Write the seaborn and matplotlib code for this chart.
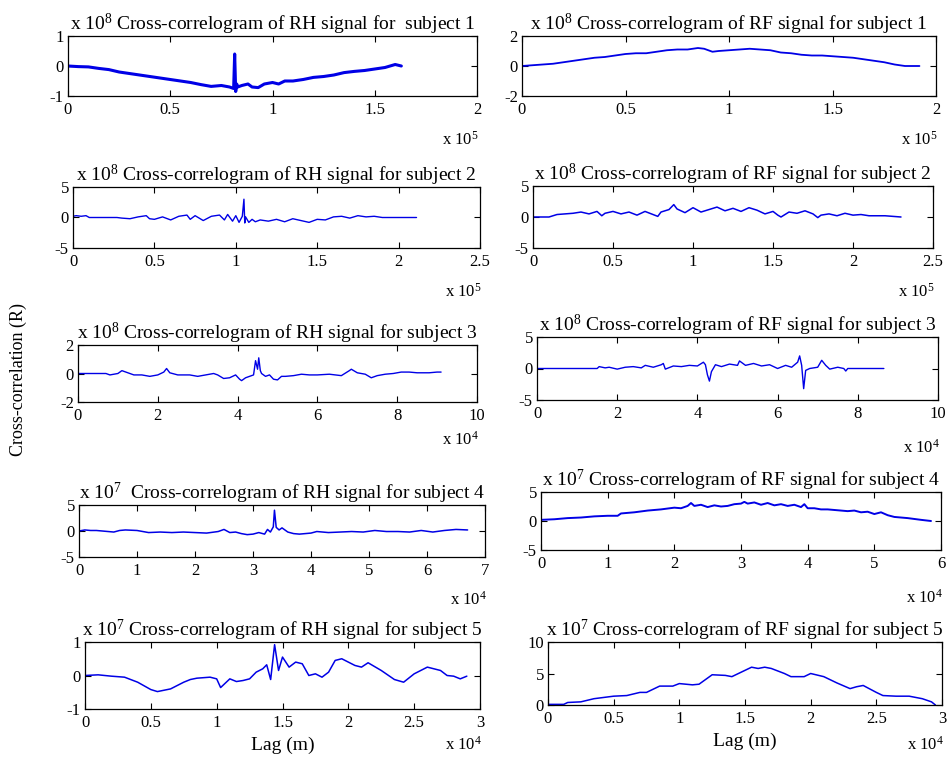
import numpy as np
import pandas as pd
import matplotlib
matplotlib.use('Agg')
import matplotlib.pyplot as plt
import seaborn as sns

sns.set_theme(style='ticks')
plt.rcParams['font.family'] = ['Liberation Serif', 'DejaVu Serif']
plt.rcParams['mathtext.fontset'] = 'custom'
plt.rcParams['mathtext.rm'] = 'Liberation Serif'
plt.rcParams['mathtext.default'] = 'regular'

# ---------------- data (lag, cross-correlation) ----------------
# RH subject 1 : lag x1e5, R x1e8
rh1_lag = [0, 0.05, 0.1, 0.15, 0.2, 0.25, 0.3, 0.35, 0.4, 0.45, 0.5, 0.55, 0.6, 0.65, 0.7,
           0.75, 0.79, 0.81, 0.815, 0.82, 0.825, 0.83, 0.85, 0.88, 0.9, 0.93, 0.96, 1.0, 1.03,
           1.06, 1.1, 1.15, 1.2, 1.25, 1.3, 1.35, 1.4, 1.45, 1.5, 1.55, 1.6, 1.63]
rh1_r = [0, -0.02, -0.03, -0.08, -0.12, -0.2, -0.25, -0.3, -0.35, -0.4, -0.45, -0.5, -0.55,
         -0.62, -0.68, -0.65, -0.7, -0.75, 0.4, -0.85, -0.6, -0.7, -0.65, -0.6, -0.7, -0.72,
         -0.6, -0.55, -0.6, -0.5, -0.5, -0.45, -0.38, -0.35, -0.3, -0.22, -0.18, -0.15, -0.1,
         -0.05, 0.05, 0]

# RF subject 1 : lag x1e5, R x1e8
rf1_lag = [0, 0.05, 0.1, 0.15, 0.2, 0.25, 0.3, 0.35, 0.4, 0.45, 0.5, 0.55, 0.6, 0.65, 0.7, 0.75,
           0.8, 0.85, 0.88, 0.92, 0.95, 1.0, 1.05, 1.1, 1.15, 1.2, 1.25, 1.3, 1.35, 1.4, 1.45,
           1.5, 1.55, 1.6, 1.65, 1.7, 1.75, 1.8, 1.85, 1.9, 1.92]
rf1_r = [0, 0.05, 0.1, 0.15, 0.25, 0.35, 0.45, 0.55, 0.6, 0.7, 0.8, 0.85, 0.85, 0.95, 1.05, 1.1,
         1.1, 1.2, 1.15, 0.95, 1.0, 1.05, 1.1, 1.15, 1.1, 1.05, 0.9, 0.85, 0.75, 0.7, 0.7,
         0.65, 0.6, 0.55, 0.45, 0.35, 0.25, 0.1, 0.0, 0.0, 0.0]

# RH subject 2 : lag x1e5, R x1e8
rh2_lag = [0, 0.02, 0.05, 0.08, 0.1, 0.2, 0.27, 0.3, 0.35, 0.4, 0.45, 0.47, 0.5, 0.55, 0.6,
           0.65, 0.7, 0.72, 0.75, 0.8, 0.85, 0.9, 0.93, 0.95, 0.98, 1.0, 1.02, 1.04, 1.05,
           1.055, 1.06, 1.08, 1.1, 1.12, 1.15, 1.2, 1.25, 1.3, 1.35, 1.4, 1.45, 1.5, 1.55,
           1.6, 1.65, 1.7, 1.75, 1.8, 1.85, 1.9, 2.0, 2.11]
rh2_r = [0.2, 0.3, 0.2, 0.3, 0, 0, 0, -0.1, -0.2, 0.1, 0.3, -0.2, -0.3, 0.1, -0.4, 0.2, 0.4,
         -0.3, 0.3, -0.5, 0.2, 0.4, -0.4, 0.5, -0.6, 0.3, -0.8, 0.2, 3.0, -0.9, 0.1, -0.8,
         -0.3, -0.7, -0.4, -0.6, -0.3, -0.7, -0.2, -0.5, -0.8, -0.3, -0.4, 0.1, 0.2, -0.1,
         0.3, 0.1, 0.2, 0, 0, 0]

# RF subject 2 : lag x1e5, R x1e8
rf2_lag = [0, 0.1, 0.15, 0.2, 0.25, 0.3, 0.35, 0.4, 0.43, 0.45, 0.5, 0.55, 0.6, 0.65, 0.7,
           0.75, 0.78, 0.8, 0.85, 0.88, 0.9, 0.95, 1.0, 1.05, 1.1, 1.15, 1.2, 1.25, 1.3, 1.35,
           1.4, 1.45, 1.5, 1.53, 1.55, 1.6, 1.65, 1.7, 1.75, 1.78, 1.8, 1.85, 1.9, 1.95, 2.0,
           2.05, 2.1, 2.2, 2.3]
rf2_r = [0, 0, 0.4, 0.5, 0.6, 0.8, 0.5, 0.9, 0.2, 0.6, 0.9, 0.5, 0.8, 0.3, 0.9, 0.4, 0.1,
         0.8, 1.2, 2.0, 1.3, 0.7, 1.5, 0.8, 1.2, 1.6, 1.0, 1.4, 0.9, 1.5, 1.1, 0.5, 0.9, 0.3,
         0.0, 0.8, 0.6, 1.0, 0.5, -0.1, 0.3, 0.5, 0.2, 0.6, 0.3, 0.4, 0.2, 0.2, 0.0]

# RH subject 3 : lag x1e4, R x1e8
rh3_lag = [0, 0.7, 0.8, 1.0, 1.1, 1.2, 1.4, 1.6, 1.8, 2.0, 2.15, 2.22, 2.3, 2.5, 2.8, 3.0,
           3.2, 3.4, 3.5, 3.65, 3.8, 3.95, 4.05, 4.1, 4.2, 4.3, 4.4, 4.45, 4.5, 4.53, 4.57,
           4.6, 4.7, 4.8, 4.9, 5.0, 5.1, 5.2, 5.4, 5.6, 5.8, 6.0, 6.3, 6.6, 6.8, 6.85, 7.0,
           7.2, 7.35, 7.5, 7.7, 7.9, 8.1, 8.3, 8.5, 8.8, 9.0, 9.1]
rh3_r = [0, 0, -0.1, 0, 0.2, 0.1, -0.1, -0.1, -0.2, -0.1, 0.1, 0.35, 0.05, -0.1, -0.1, -0.2,
         -0.1, 0, -0.1, -0.35, -0.3, -0.1, -0.4, -0.5, -0.3, -0.2, -0.1, 0.9, 0.3, 1.1, 0.2,
         0.0, -0.2, -0.1, -0.4, -0.45, -0.2, -0.2, -0.15, -0.05, -0.1, -0.1, -0.05, -0.15,
         0.2, 0.3, 0.05, -0.05, -0.3, -0.15, -0.05, 0, 0.1, 0.1, 0.05, 0.05, 0.1, 0.1]

# RF subject 3 : lag x1e4, R x1e8
rf3_lag = [0, 1.5, 1.55, 1.7, 1.8, 2.0, 2.2, 2.4, 2.6, 2.7, 2.9, 3.1, 3.15, 3.2, 3.4, 3.6,
           3.8, 4.0, 4.15, 4.2, 4.25, 4.3, 4.35, 4.45, 4.6, 4.8, 5.0, 5.05, 5.2, 5.4, 5.6,
           5.8, 6.0, 6.2, 6.35, 6.5, 6.55, 6.6, 6.65, 6.7, 6.8, 7.0, 7.1, 7.2, 7.3, 7.5,
           7.65, 7.7, 7.75, 8.0, 8.65]
rf3_r = [0, 0, 0.3, 0.1, 0.2, -0.1, 0.2, 0.3, 0.1, 0.5, 0.2, 0.6, 0.8, -0.1, 0.4, 0.3, 0.5,
         0.4, 1.0, 0.6, -1.0, -2.0, -0.5, 0.6, 0.3, 0.7, 0.5, 1.2, 0.5, 0.8, 0.4, 0.6, 0.0,
         0.5, 0.2, 1.0, 2.0, 0.5, -3.2, -0.3, 0.0, 0.2, 1.3, 0.5, -0.1, 0.2, 0.0, -0.4, 0.0,
         0.0, 0.0]

# RH subject 4 : lag x1e4, R x1e7
rh4_lag = [0, 0.1, 0.2, 0.3, 0.6, 0.7, 0.8, 1.0, 1.2, 1.4, 1.6, 1.8, 2.0, 2.2, 2.4, 2.5, 2.6,
           2.7, 2.8, 2.9, 3.0, 3.1, 3.2, 3.25, 3.3, 3.35, 3.37, 3.4, 3.45, 3.5, 3.6, 3.7, 3.8,
           4.0, 4.1, 4.3, 4.5, 4.7, 4.9, 5.1, 5.3, 5.5, 5.7, 5.9, 6.1, 6.3, 6.5, 6.7]
rh4_r = [0, 0.2, 0.1, 0.1, -0.2, 0.1, 0.2, 0.1, -0.3, -0.2, -0.3, -0.2, -0.3, -0.4, -0.1,
         0.3, -0.3, -0.2, -0.5, -0.7, -0.6, -0.3, -0.6, 0.3, -0.2, 0.8, 4.0, 0.7, 0.2, 0.6,
         -0.2, -0.5, -0.6, -0.4, -0.1, -0.3, -0.2, -0.1, -0.2, 0.1, -0.1, -0.1, -0.2, 0.1,
         -0.2, 0.1, 0.3, 0.2]

# RF subject 4 : lag x1e4, R x1e7
rf4_lag = [0, 0.2, 0.4, 0.6, 0.8, 1.0, 1.15, 1.2, 1.4, 1.6, 1.8, 2.0, 2.1, 2.2, 2.25, 2.3,
           2.4, 2.5, 2.6, 2.7, 2.8, 2.9, 3.0, 3.05, 3.1, 3.2, 3.3, 3.4, 3.5, 3.6, 3.7, 3.8,
           3.9, 3.95, 4.0, 4.1, 4.2, 4.3, 4.4, 4.5, 4.6, 4.7, 4.8, 4.9, 5.0, 5.1, 5.2, 5.3,
           5.5, 5.7, 5.85]
rf4_r = [0.2, 0.3, 0.5, 0.6, 0.8, 0.9, 0.9, 1.3, 1.5, 1.8, 2.0, 2.3, 2.2, 2.6, 3.1, 2.6,
         2.8, 2.4, 2.7, 2.5, 2.6, 2.9, 3.0, 3.3, 3.0, 3.2, 2.8, 3.1, 2.7, 2.9, 2.6, 2.8,
         2.4, 2.9, 2.2, 2.2, 2.0, 2.0, 1.9, 1.8, 1.7, 1.8, 1.5, 1.6, 1.2, 1.5, 1.0, 0.7,
         0.5, 0.2, 0.0]

# RH subject 5 : lag x1e4, R x1e7
rh5_lag = [0, 0.1, 0.2, 0.3, 0.4, 0.5, 0.55, 0.65, 0.75, 0.8, 0.85, 0.95, 1.0, 1.03, 1.1,
           1.15, 1.2, 1.25, 1.3, 1.35, 1.38, 1.41, 1.44, 1.47, 1.5, 1.55, 1.6, 1.65, 1.7,
           1.75, 1.8, 1.85, 1.9, 1.95, 2.0, 2.05, 2.1, 2.15, 2.25, 2.35, 2.42, 2.5, 2.6,
           2.7, 2.75, 2.8, 2.85, 2.9]
rh5_r = [0, 0.02, -0.02, -0.05, -0.2, -0.42, -0.48, -0.4, -0.2, -0.12, -0.08, -0.05, -0.1,
         -0.36, -0.1, -0.18, -0.15, -0.1, 0.1, 0.2, 0.32, -0.12, 0.92, 0.15, 0.55, 0.25,
         0.4, 0.35, 0.0, 0.05, -0.05, 0.1, 0.45, 0.5, 0.4, 0.3, 0.25, 0.38, 0.15, -0.12,
         -0.2, 0.05, 0.25, 0.15, 0.0, -0.02, -0.1, -0.02]

# RF subject 5 : lag x1e4, R x1e7
rf5_lag = [0, 0.12, 0.15, 0.25, 0.35, 0.5, 0.6, 0.7, 0.75, 0.85, 0.95, 1.0, 1.1, 1.15, 1.25,
           1.35, 1.4, 1.5, 1.55, 1.6, 1.65, 1.7, 1.8, 1.85, 1.95, 2.0, 2.1, 2.2, 2.3, 2.35,
           2.4, 2.5, 2.55, 2.65, 2.75, 2.85, 2.92, 2.95]
rf5_r = [0.1, 0.1, 0.4, 0.5, 1.0, 1.4, 1.5, 2.0, 2.0, 3.0, 3.0, 3.4, 3.2, 3.3, 4.8, 4.7,
         4.5, 5.5, 6.0, 5.8, 6.0, 5.8, 5.0, 4.5, 4.5, 5.0, 4.5, 3.5, 2.6, 2.9, 3.1, 2.0,
         1.5, 1.4, 1.4, 1.0, 0.5, 0.0]

titles = [
    'x 10$^{8}$ Cross-correlogram of RH signal for  subject 1',
    'x 10$^{8}$ Cross-correlogram of RF signal for subject 1',
    'x 10$^{8}$ Cross-correlogram of RH signal for subject 2',
    'x 10$^{8}$ Cross-correlogram of RF signal for subject 2',
    'x 10$^{8}$ Cross-correlogram of RH signal for subject 3',
    'x 10$^{8}$ Cross-correlogram of RF signal for subject 3',
    'x 10$^{7}$  Cross-correlogram of RH signal for subject 4',
    'x 10$^{7}$ Cross-correlogram of RF signal for subject 4',
    'x 10$^{7}$ Cross-correlogram of RH signal for subject 5',
    'x 10$^{7}$ Cross-correlogram of RF signal for subject 5',
]
x_exponent = ['x 10$^{5}$', 'x 10$^{5}$', 'x 10$^{5}$', 'x 10$^{5}$', 'x 10$^{4}$',
              'x 10$^{4}$', 'x 10$^{4}$', 'x 10$^{4}$', 'x 10$^{4}$', 'x 10$^{4}$']
x_ticks = [[0, 0.5, 1, 1.5, 2], [0, 0.5, 1, 1.5, 2],
           [0, 0.5, 1, 1.5, 2, 2.5], [0, 0.5, 1, 1.5, 2, 2.5],
           [0, 2, 4, 6, 8, 10], [0, 2, 4, 6, 8, 10],
           [0, 1, 2, 3, 4, 5, 6, 7], [0, 1, 2, 3, 4, 5, 6],
           [0, 0.5, 1, 1.5, 2, 2.5, 3], [0, 0.5, 1, 1.5, 2, 2.5, 3]]
y_ticks = [[-1, 0, 1], [-2, 0, 2], [-5, 0, 5], [-5, 0, 5], [-2, 0, 2], [-5, 0, 5],
           [-5, 0, 5], [-5, 0, 5], [-1, 0, 1], [0, 5, 10]]

series = [(rh1_lag, rh1_r), (rf1_lag, rf1_r), (rh2_lag, rh2_r), (rf2_lag, rf2_r),
          (rh3_lag, rh3_r), (rf3_lag, rf3_r), (rh4_lag, rh4_r), (rf4_lag, rf4_r),
          (rh5_lag, rh5_r), (rf5_lag, rf5_r)]

# ---------------- layout (pixels: left, top, right, bottom) ----------------
W, H = 952, 763
boxes = [(68, 36, 477, 96), (522, 36, 936, 96),
         (73, 187, 480, 248), (533, 186, 933, 248),
         (78, 345, 477, 402), (537, 337, 938, 400),
         (79, 505, 485, 557), (541, 492, 941, 550),
         (85, 642, 480, 709), (548, 642, 942, 705)]
line_w = [2.2, 1.3, 1.0, 1.1, 1.0, 1.0, 1.1, 1.4, 1.1, 1.1]
exp_offset = [44, 44, 44, 44, 38, 48, 43, 48, 36, 40]

fig = plt.figure(figsize=(W / 100, H / 100), dpi=100)
fig.patch.set_facecolor('white')

for i, (lag, r) in enumerate(series):
    l, t, rr, b = boxes[i]
    ax = fig.add_axes([l / W, 1 - b / H, (rr - l) / W, (b - t) / H])
    df = pd.DataFrame({'lag': lag, 'r': r})
    sns.lineplot(data=df, x='lag', y='r', ax=ax, color='#0000e6', linewidth=line_w[i],
                 estimator=None, sort=False)
    ax.set_xlim(x_ticks[i][0], x_ticks[i][-1])
    ax.set_ylim(y_ticks[i][0], y_ticks[i][-1])
    ax.set_xticks(x_ticks[i])
    ax.set_yticks(y_ticks[i])
    ax.set_xticklabels([('%g' % v) for v in x_ticks[i]])
    ax.set_yticklabels([('%g' % v) for v in y_ticks[i]])
    ax.tick_params(direction='in', top=True, right=True, length=4, width=0.8,
                   labelsize=12, pad=3, colors='black')
    ax.tick_params(axis='x', pad=4)
    for s in ax.spines.values():
        s.set_visible(True)
        s.set_color('black')
        s.set_linewidth(0.9)
    ax.set_facecolor('white')
    ax.set_xlabel('')
    ax.set_ylabel('')
    ax.set_title(titles[i], fontsize=14, pad=4, color='black')
    ax.annotate(x_exponent[i], xy=(1.0, 0.0), xycoords='axes fraction',
                xytext=(2, -exp_offset[i]), textcoords='offset pixels',
                ha='right', va='center', fontsize=12, color='black')
    if i >= 8:
        ax.annotate('Lag (m)', xy=(0.5, 0.0), xycoords='axes fraction',
                    xytext=(0, -36), textcoords='offset pixels',
                    ha='center', va='center', fontsize=14, color='black')

fig.text(18 / W, 1 - 380 / H, 'Cross-correlation (R)', rotation=90, ha='center',
         va='center', fontsize=13, color='black')

fig.savefig('out.png', dpi=100, facecolor='white')
